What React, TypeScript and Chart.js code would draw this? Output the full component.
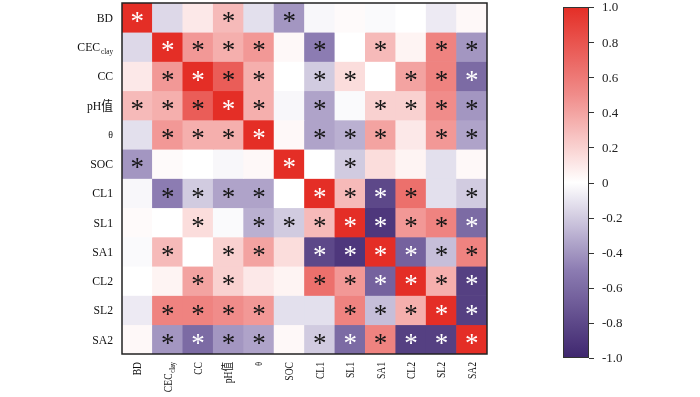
import React, { useEffect, useRef } from "react";
import { Chart, registerables } from "chart.js";
Chart.register(...registerables);

// ---- data ----
const varNames = ["BD", "CEC", "CC", "pH值", "θ", "SOC", "CL1", "SL1", "SA1", "CL2", "SL2", "SA2"];
const varSubs = ["", "clay", "", "", "", "", "", "", "", "", "", ""];

const rBD = [1, -0.15, 0.1, 0.3, -0.12, -0.4, -0.03, 0.02, -0.02, 0.0, -0.08, 0.03];
const rCEC = [-0.15, 1, 0.45, 0.35, 0.45, 0.03, -0.5, 0.0, 0.3, 0.05, 0.55, -0.4];
const rCC = [0.1, 0.45, 1, 0.75, 0.35, 0.0, -0.2, 0.15, 0.0, 0.4, 0.55, -0.6];
const rPH = [0.3, 0.35, 0.75, 1, 0.35, -0.03, -0.35, -0.02, 0.2, 0.2, 0.5, -0.4];
const rTheta = [-0.12, 0.45, 0.35, 0.35, 1, 0.03, -0.35, -0.3, 0.4, 0.1, 0.45, -0.35];
const rSOC = [-0.4, 0.02, 0.0, -0.03, 0.03, 1, 0.0, -0.2, 0.15, 0.05, -0.12, 0.03];
const rCL1 = [-0.03, -0.5, -0.2, -0.35, -0.35, 0.0, 1, 0.3, -0.8, 0.65, -0.12, -0.2];
const rSL1 = [0.02, 0.0, 0.15, -0.02, -0.3, -0.2, 0.3, 1, -0.9, 0.45, 0.55, -0.6];
const rSA1 = [-0.02, 0.3, 0.0, 0.2, 0.4, 0.15, -0.8, -0.9, 1, -0.65, -0.25, 0.55];
const rCL2 = [0.0, 0.05, 0.4, 0.2, 0.1, 0.05, 0.65, 0.45, -0.65, 1, 0.35, -0.85];
const rSL2 = [-0.08, 0.55, 0.55, 0.5, 0.45, -0.12, -0.12, 0.55, -0.25, 0.35, 1, -0.85];
const rSA2 = [0.03, -0.4, -0.6, -0.4, -0.35, 0.03, -0.2, -0.6, 0.55, -0.85, -0.85, 1];
const corrRows = [rBD, rCEC, rCC, rPH, rTheta, rSOC, rCL1, rSL1, rSA1, rCL2, rSL2, rSA2];

// significance marks (1 = "*")
const sBD = [1, 0, 0, 1, 0, 1, 0, 0, 0, 0, 0, 0];
const sCEC = [0, 1, 1, 1, 1, 0, 1, 0, 1, 0, 1, 1];
const sCC = [0, 1, 1, 1, 1, 0, 1, 1, 0, 1, 1, 1];
const sPH = [1, 1, 1, 1, 1, 0, 1, 0, 1, 1, 1, 1];
const sTheta = [0, 1, 1, 1, 1, 0, 1, 1, 1, 0, 1, 1];
const sSOC = [1, 0, 0, 0, 0, 1, 0, 1, 0, 0, 0, 0];
const sCL1 = [0, 1, 1, 1, 1, 0, 1, 1, 1, 1, 0, 1];
const sSL1 = [0, 0, 1, 0, 1, 1, 1, 1, 1, 1, 1, 1];
const sSA1 = [0, 1, 0, 1, 1, 0, 1, 1, 1, 1, 1, 1];
const sCL2 = [0, 0, 1, 1, 0, 0, 1, 1, 1, 1, 1, 1];
const sSL2 = [0, 1, 1, 1, 1, 0, 0, 1, 1, 1, 1, 1];
const sSA2 = [0, 1, 1, 1, 1, 0, 1, 1, 1, 1, 1, 1];
const sigRows = [sBD, sCEC, sCC, sPH, sTheta, sSOC, sCL1, sSL1, sSA1, sCL2, sSL2, sSA2];

const colorbarTicks = [1.0, 0.8, 0.6, 0.4, 0.2, 0, -0.2, -0.4, -0.6, -0.8, -1.0];
const colorbarLabels = ["1.0", "0.8", "0.6", "0.4", "0.2", "0", "-0.2", "-0.4", "-0.6", "-0.8", "-1.0"];

// ---- styling ----
const colorStops: [number, number[]][] = [
  [-1, [62, 38, 110]],
  [-0.5, [140, 124, 178]],
  [0, [255, 255, 255]],
  [0.5, [240, 140, 138]],
  [1, [228, 46, 38]],
];
const serif = "'Liberation Serif', 'Times New Roman', 'Noto Sans CJK SC', serif";

function colorFor(v: number): string {
  for (let k = 0; k < colorStops.length - 1; k++) {
    const [a, ca] = colorStops[k];
    const [b, cb] = colorStops[k + 1];
    if (v >= a && v <= b) {
      const t = (v - a) / (b - a);
      const c = ca.map((x, i) => Math.round(x + (cb[i] - x) * t));
      return `rgb(${c[0]},${c[1]},${c[2]})`;
    }
  }
  const c = v < 0 ? colorStops[0][1] : colorStops[colorStops.length - 1][1];
  return `rgb(${c[0]},${c[1]},${c[2]})`;
}

function drawLabel(
  ctx: CanvasRenderingContext2D, main: string, sub: string,
  xRight: number, yMid: number, size: number, sx: number
) {
  ctx.save();
  ctx.translate(xRight, yMid);
  ctx.scale(sx, 1);
  ctx.font = `${size}px ${serif}`;
  const wMain = ctx.measureText(main).width;
  ctx.font = `8px ${serif}`;
  const wSub = sub ? ctx.measureText(sub).width + 1 : 0;
  const x0 = -wMain - wSub;
  ctx.textAlign = "left";
  ctx.textBaseline = "alphabetic";
  ctx.font = `${size}px ${serif}`;
  const base = size * 0.33;
  ctx.fillText(main, x0, base);
  if (sub) {
    ctx.font = `8px ${serif}`;
    ctx.fillText(sub, x0 + wMain + 1, base + 3);
  }
  ctx.restore();
}

const decorPlugin = {
  id: "heatDecor",
  afterDatasetsDraw(chart: any) {
    const { ctx, chartArea, scales } = chart;
    const xs = scales.x;
    const ys = scales.y;
    const n = varNames.length;
    ctx.save();
    ctx.font = `27px ${serif}`;
    const m = ctx.measureText("*");
    const asc = m.actualBoundingBoxAscent;
    const desc = m.actualBoundingBoxDescent;
    ctx.textAlign = "center";
    ctx.textBaseline = "alphabetic";
    for (let i = 0; i < n; i++) {
      for (let j = 0; j < n; j++) {
        if (!sigRows[i][j]) continue;
        const v = corrRows[i][j];
        const cx = xs.getPixelForValue(j);
        const cy = ys.getPixelForValue(n - 1 - i + 0.5);
        ctx.fillStyle = v >= 0.9 || v <= -0.55 ? "#ffffff" : "#151515";
        ctx.fillText("*", cx, cy + (asc - desc) / 2);
      }
    }
    ctx.strokeStyle = "#222";
    ctx.lineWidth = 1.5;
    ctx.strokeRect(chartArea.left, chartArea.top, chartArea.right - chartArea.left, chartArea.bottom - chartArea.top);
    ctx.restore();
  },
  afterDraw(chart: any) {
    const { ctx, chartArea, scales } = chart;
    const xs = scales.x;
    const ys = scales.y;
    const cbs = scales.cb;
    const n = varNames.length;
    ctx.save();
    ctx.fillStyle = "#111";
    // y labels
    for (let i = 0; i < n; i++) {
      const cy = ys.getPixelForValue(n - 1 - i + 0.5);
      const size = varNames[i] === "θ" ? 11 : 13;
      drawLabel(ctx, varNames[i], varSubs[i], chartArea.left - 9, cy, size, 0.9);
    }
    // x labels (rotated)
    for (let j = 0; j < n; j++) {
      const cx = xs.getPixelForValue(j);
      ctx.save();
      ctx.translate(cx, chartArea.bottom + 8);
      ctx.rotate(-Math.PI / 2);
      const size = varNames[j] === "θ" ? 10 : 12;
      drawLabel(ctx, varNames[j], varSubs[j], 0, 0, size, 0.8);
      ctx.restore();
    }
    // colorbar
    const bx0 = chartArea.right + 76;
    const bx1 = chartArea.right + 102;
    const yTop = cbs.getPixelForValue(1);
    const yBot = cbs.getPixelForValue(-1);
    const g = ctx.createLinearGradient(0, yTop, 0, yBot);
    for (let k = 0; k <= 40; k++) {
      const v = 1 - k / 20;
      g.addColorStop(k / 40, colorFor(v));
    }
    ctx.fillStyle = g;
    ctx.fillRect(bx0, yTop, bx1 - bx0, yBot - yTop);
    ctx.strokeStyle = "#333";
    ctx.lineWidth = 1;
    ctx.strokeRect(bx0 + 0.5, yTop + 0.5, bx1 - bx0 - 1, yBot - yTop - 1);
    ctx.beginPath();
    for (const t of colorbarTicks) {
      const y = Math.round(cbs.getPixelForValue(t)) + 0.5;
      ctx.moveTo(bx1, y);
      ctx.lineTo(bx1 + 5, y);
    }
    ctx.stroke();
    ctx.fillStyle = "#222";
    ctx.font = `13px ${serif}`;
    ctx.textAlign = "left";
    ctx.textBaseline = "middle";
    colorbarTicks.forEach((t, k) => {
      ctx.fillText(colorbarLabels[k], bx1 + 13, cbs.getPixelForValue(t) + 1);
    });
    ctx.restore();
  },
};

export default function App() {
  const ref = useRef<HTMLCanvasElement | null>(null);
  useEffect(() => {
    if (!ref.current) return;
    const n = varNames.length;
    const datasets = corrRows.map((row, i) => ({
      label: varNames[i],
      data: row.map((v, j) => ({ x: varNames[j], y: [n - 1 - i, n - i], v })),
      backgroundColor: (c: any) => (c.raw ? colorFor(c.raw.v) : "#fff"),
      borderWidth: 0,
      barPercentage: 1,
      categoryPercentage: 1,
      grouped: false,
    }));
    const chart = new Chart(ref.current, {
      type: "bar",
      data: { labels: varNames, datasets: datasets as any },
      options: {
        responsive: false,
        animation: false,
        layout: { padding: { top: 3, left: 0, right: 0, bottom: 0 } },
        plugins: { legend: { display: false }, tooltip: { enabled: false } },
        scales: {
          x: {
            type: "category",
            grid: { display: false },
            border: { display: false },
            ticks: { display: false },
            afterFit: (s: any) => { s.height = 43; },
          },
          y: {
            type: "linear",
            min: 0,
            max: n,
            grid: { display: false },
            border: { display: false },
            ticks: { display: false },
            afterFit: (s: any) => { s.width = 122; },
          },
          cb: {
            type: "linear",
            axis: "y",
            position: "right",
            min: -0.9772,
            max: 1.0228,
            grid: { display: false, drawTicks: false },
            border: { display: false },
            ticks: { display: false, padding: 0 },
            afterFit: (s: any) => { s.width = 213; },
          },
        },
      } as any,
      plugins: [decorPlugin],
    });
    return () => chart.destroy();
  }, []);
  return (
    <div style={{ position: "absolute", left: 0, top: 0, width: 700, height: 397, background: "#fff" }}>
      <canvas ref={ref} width={700} height={397} style={{ display: "block" }} />
    </div>
  );
}
